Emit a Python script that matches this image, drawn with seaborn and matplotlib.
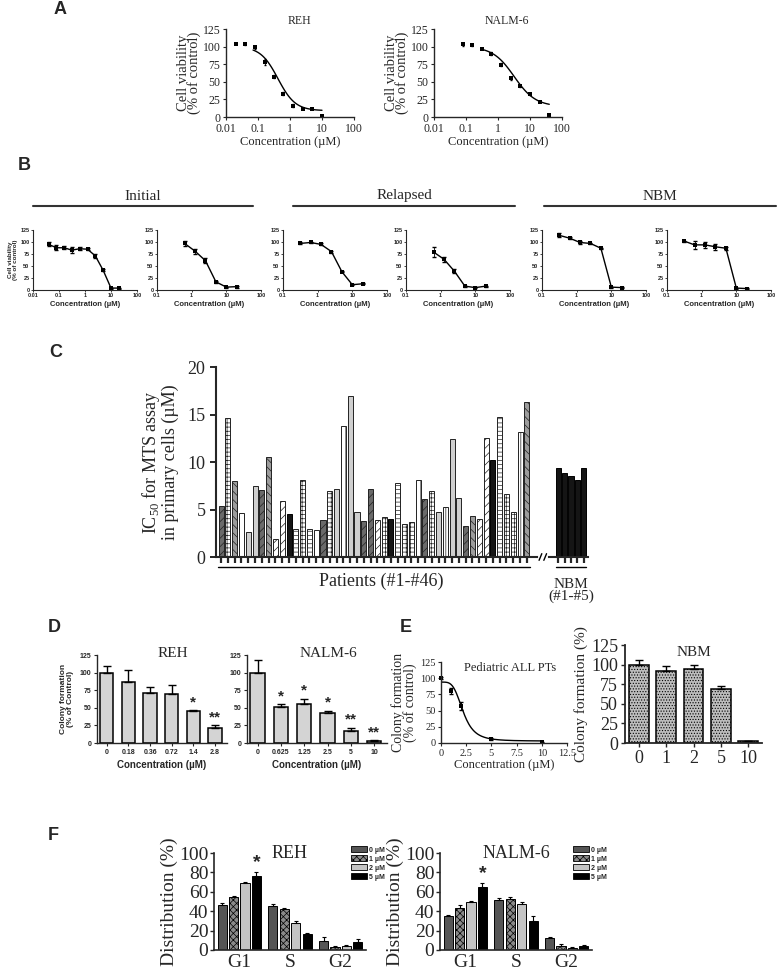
import numpy as np
import pandas as pd
import seaborn as sns
import matplotlib
matplotlib.use("Agg")
import matplotlib.pyplot as plt
from matplotlib.lines import Line2D
from matplotlib.patches import Patch

sns.set_style("ticks")
plt.rcParams['font.family'] = ['Liberation Serif', 'DejaVu Sans']
plt.rcParams['hatch.linewidth'] = 0.5
plt.rcParams['axes.linewidth'] = 1.0
SANS = ['Liberation Sans', 'DejaVu Sans']
SERIF = ['Liberation Serif', 'DejaVu Serif']

# ---------------- data ----------------
# A: MTS viability in cell lines
a_reh_conc = [0.02, 0.04, 0.08, 0.16, 0.31, 0.625, 1.25, 2.5, 5, 10]
a_reh_via = [104, 103, 99, 78, 57, 33, 16, 12, 12, 2]
a_reh_err = [1, 1, 2, 4, 2, 2, 2, 1, 1, 1]
a_reh_fit = (100, 9, 0.42, 1.6)        # top, bottom, IC50, hill
a_nalm_conc = [0.078, 0.156, 0.3125, 0.625, 1.25, 2.5, 5, 10, 20, 40]
a_nalm_via = [103, 102, 97, 90, 74, 55, 44, 32, 22, 3]
a_nalm_err = [2, 1, 1, 2, 2, 2, 1, 1, 1, 1]
a_nalm_fit = (100, 15, 3.2, 1.3)

# B: primary cells
b_init1_conc = [0.04, 0.08, 0.16, 0.31, 0.625, 1.25, 2.5, 5, 10, 20]
b_init1_via = [95, 88, 88, 83, 86, 85, 71, 41, 4, 4]
b_init1_err = [4, 5, 3, 6, 3, 2, 4, 2, 1, 1]
b_init2_conc = [0.625, 1.25, 2.5, 5, 10, 20]
b_init2_via = [97, 81, 61, 17, 6, 7]
b_init2_err = [5, 5, 5, 2, 1, 2]
b_rel1_conc = [0.31, 0.625, 1.25, 2.5, 5, 10, 20]
b_rel1_via = [97, 99, 95, 80, 38, 11, 13]
b_rel1_err = [2, 2, 2, 2, 1, 1, 1]
b_rel2_conc = [0.625, 1.25, 2.5, 5, 10, 20]
b_rel2_via = [79, 64, 39, 8, 5, 8]
b_rel2_err = [10, 5, 4, 1, 1, 1]
b_nbm1_conc = [0.31, 0.625, 1.25, 2.5, 5, 10, 20]
b_nbm1_via = [114, 108, 99, 97, 87, 6, 5]
b_nbm1_err = [4, 2, 4, 1, 1, 1, 1]
b_nbm2_conc = [0.31, 0.625, 1.25, 2.5, 5, 10, 20]
b_nbm2_via = [102, 94, 94, 90, 87, 4, 3]
b_nbm2_err = [1, 8, 7, 6, 3, 1, 1]
b_groups = ['Initial', 'Relapsed', 'NBM']

# C: IC50 of patients and NBM
c_patient_ic50 = [5.4, 14.6, 8.0, 4.6, 2.6, 7.5, 7.1, 10.5, 1.9, 5.9,
                  4.5, 3.0, 8.1, 3.0, 2.8, 3.9, 6.9, 7.2, 13.8, 17.0,
                  4.75, 3.8, 7.2, 3.9, 4.2, 4.05, 7.8, 3.5, 3.7, 8.1,
                  6.1, 7.0, 4.7, 5.3, 12.4, 6.2, 3.3, 4.3, 4.0, 12.5,
                  10.2, 14.7, 6.6, 4.75, 13.2, 16.3]
c_nbm_ic50 = [9.4, 8.8, 8.55, 8.1, 9.4]
c_yticks = [0, 5, 10, 15, 20]

# D: colony formation in cell lines
d_reh_dose = ['0', '0.18', '0.36', '0.72', '1.4', '2.8']
d_reh_col = [100, 87, 71, 69, 46, 21]
d_reh_err = [10, 17, 9, 13, 1, 5]
d_reh_sig = ['', '', '', '', '*', '**']
d_nalm_dose = ['0', '0.625', '1.25', '2.5', '5', '10']
d_nalm_col = [100, 51, 55, 42, 17, 3]
d_nalm_err = [18, 4, 8, 4, 5, 1]
d_nalm_sig = ['', '*', '*', '*', '**', '**']

# E: colony formation in patients and NBM
e_pt_conc = [0, 1, 2, 5, 10]
e_pt_col = [100, 80, 57, 6, 1]
e_pt_err = [2, 5, 6, 2, 1]
e_pt_fit = (94, 3, 2.2, 4.0)
e_nbm_dose = ['0', '1', '2', '5', '10']
e_nbm_col = [100, 92, 94, 69, 2]
e_nbm_err = [6, 6, 5, 4, 1]

# F: cell cycle distribution
f_phase = ['G1', 'S', 'G2']
f_dose = ['0 µM', '1 µM', '2 µM', '5 µM']
f_reh_0 = [46, 45, 9]
f_reh_1 = [55, 42, 3]
f_reh_2 = [69, 28, 4]
f_reh_5 = [76, 16, 8]
f_reh_err = [[2, 2, 4], [1, 1.5, 1], [1, 1.5, 1.5], [4, 2, 3]]
f_nalm_0 = [35, 52, 12]
f_nalm_1 = [43, 53, 4]
f_nalm_2 = [50, 47, 2]
f_nalm_5 = [65, 30, 4]
f_nalm_err = [[1, 1.5, 1], [3, 2, 2], [1, 2, 1], [4, 5, 1]]

# ---------------- figure ----------------
W, H = 778, 973
fig = plt.figure(figsize=(W / 100, H / 100), dpi=100)


def px_axes(left, top, width, height):
    return fig.add_axes([left / W, 1 - (top + height) / H, width / W, height / H])


def fig_text(x, y, s, **kw):
    fig.text(x / W, 1 - y / H, s, **kw)


def four_pl(x, top, bottom, ic50, hill):
    return bottom + (top - bottom) / (1 + (x / ic50) ** hill)


def panel_label(x, y, s):
    fig_text(x, y, s, family=SANS, weight='bold', fontsize=13, ha='left', va='center')


def tick_font(ax, family, size, weight='normal'):
    for t in ax.get_xticklabels() + ax.get_yticklabels():
        t.set_family(family)
        t.set_fontsize(size)
        t.set_weight(weight)


# ---- A ----
panel_label(54, 10, 'A')
for left, title, conc, via, err, fit, rng in [
        (226, 'REH', a_reh_conc, a_reh_via, a_reh_err, a_reh_fit, (0.07, 10)),
        (434, 'NALM-6', a_nalm_conc, a_nalm_via, a_nalm_err, a_nalm_fit, (0.3, 40))]:
    ax = px_axes(left, 29, 128, 88)
    ax.errorbar(conc, via, yerr=err, fmt='none', ecolor='black', elinewidth=0.6, capsize=1)
    sns.scatterplot(x=conc, y=via, marker='s', color='black', s=10, linewidth=0, ax=ax, clip_on=False)
    xs = np.logspace(np.log10(rng[0]), np.log10(rng[1]), 120)
    sns.lineplot(x=xs, y=four_pl(xs, *fit), color='black', lw=1, ax=ax)
    ax.set_xscale('log')
    ax.set_xlim(0.01, 100)
    ax.set_ylim(0, 125)
    ax.set_xticks([0.01, 0.1, 1, 10, 100], ['0.01', '0.1', '1', '10', '100'])
    ax.set_yticks([0, 25, 50, 75, 100, 125])
    ax.minorticks_off()
    ax.tick_params(length=2.5, width=0.8, pad=1.5)
    tick_font(ax, SERIF, 8.5)
    ax.set_ylabel('Cell viability\n(% of control)', family=SERIF, fontsize=10.5, linespacing=0.75,
                  labelpad=1)
    ax.set_xlabel('Concentration (µM)', family=SERIF, fontsize=9, labelpad=1)
    ax.text(0.57, 1.09, title, transform=ax.transAxes, family=SERIF, fontsize=8.5,
            ha='center', va='center')
    sns.despine(ax=ax)

# ---- B ----
panel_label(18, 165, 'B')
for name, (x0, x1) in zip(b_groups, [(33, 253), (293, 515), (544, 776)]):
    fig_text((x0 + x1) / 2, 196, name, family=SERIF, fontsize=11, ha='center', va='center')
    fig.add_artist(Line2D([x0 / W, x1 / W], [1 - 206 / H, 1 - 206 / H], color='#333333', lw=1.5))

b_sets = [(b_init1_conc, b_init1_via, b_init1_err, 0.01),
          (b_init2_conc, b_init2_via, b_init2_err, 0.1),
          (b_rel1_conc, b_rel1_via, b_rel1_err, 0.1),
          (b_rel2_conc, b_rel2_via, b_rel2_err, 0.1),
          (b_nbm1_conc, b_nbm1_via, b_nbm1_err, 0.1),
          (b_nbm2_conc, b_nbm2_via, b_nbm2_err, 0.1)]
for i, (left, (conc, via, err, xmin)) in enumerate(zip([33, 157, 283, 406, 542, 667], b_sets)):
    ax = px_axes(left, 230, 104, 60)
    ax.errorbar(conc, via, yerr=err, fmt='none', ecolor='black', elinewidth=0.6, capsize=1.2)
    sns.lineplot(x=conc, y=via, color='black', lw=1, marker='s', markersize=3,
                 markeredgewidth=0, ax=ax)
    ax.set_xscale('log')
    ax.set_xlim(xmin, 100)
    ax.set_ylim(0, 125)
    ticks = [t for t in [0.01, 0.1, 1, 10, 100] if t >= xmin]
    ax.set_xticks(ticks, [f'{t:g}' for t in ticks])
    ax.set_yticks([0, 25, 50, 75, 100, 125])
    ax.minorticks_off()
    ax.tick_params(length=1.5, width=0.6, pad=1)
    tick_font(ax, SANS, 4, 'bold')
    for s in ax.spines.values():
        s.set_linewidth(0.8)
    ax.set_xlabel('Concentration (µM)', family=SANS, fontsize=5.5, weight='bold', labelpad=2)
    if i == 0:
        ax.set_ylabel('Cell viability\n(% of control)', family=SANS, fontsize=4.5,
                      weight='bold', linespacing=0.9, labelpad=2)
    sns.despine(ax=ax)

# ---- C ----
panel_label(49, 353, 'C')
n_pat = len(c_patient_ic50)
c_pos = list(range(n_pat)) + [n_pat + 3.6 + k * 0.95 for k in range(len(c_nbm_ic50))]
c_df = pd.DataFrame({'pos': c_pos, 'ic50': c_patient_ic50 + c_nbm_ic50})
ax = px_axes(216, 367, 372, 190)
sns.barplot(data=c_df, x='pos', y='ic50', native_scale=True, color='white', width=0.78,
            errorbar=None, edgecolor='#222222', linewidth=0.7, ax=ax)
styles = {
    'd': ('#6a6a6a', '////'), 'g': ('#9c9c9c', '\\\\\\\\'), 'l': ('#cfcfcf', ''),
    'w': ('white', '||'), 'c': ('white', '++++'), 's': ('white', '////'),
    'h': ('white', '----'), 'k': ('#151515', ''),
}
bar_look = list('dcgwlldgsskhchwdclwllddsckhccwdclwlldgsskhccwg') + ['k'] * len(c_nbm_ic50)
for patch, code in zip(ax.patches, bar_look):
    fc, hatch = styles[code]
    patch.set_facecolor(fc)
    patch.set_hatch(hatch)
    if code == 'k':
        patch.set_edgecolor('black')
ax.set_xlim(-0.75, 54)
ax.set_ylim(0, 20)
ax.set_yticks(c_yticks)
ax.set_xticks(c_pos)
ax.set_xticklabels([])
ax.tick_params(axis='x', length=4, width=1.6, direction='out')
ax.tick_params(axis='y', length=4, width=1.4)
tick_font(ax, SERIF, 13)
for s in ax.spines.values():
    s.set_linewidth(1.5)
ax.set_xlabel('')
ax.set_ylabel('IC$_{\\mathregular{50}}$ for MTS assay\nin primary cells (µM)', family=SERIF,
              fontsize=13, linespacing=1.0, labelpad=6)
sns.despine(ax=ax)
brk = n_pat + 1.3
ax.plot([brk - 0.3, brk + 0.5], [0, 0], color='white', lw=3, clip_on=False, zorder=4)
for dx in (-0.3, 0.4):
    ax.plot([brk + dx - 0.2, brk + dx + 0.2], [-0.35, 0.35], color='black', lw=1, clip_on=False, zorder=5)
ax.plot([-0.4, n_pat - 0.6], [-1.05, -1.05], color='black', lw=1, clip_on=False)
ax.plot([c_pos[n_pat] - 0.3, c_pos[-1] + 0.3], [-1.05, -1.05], color='black', lw=1, clip_on=False)
ax.text((n_pat - 1) / 2 + 1, -2.6, 'Patients (#1-#46)', family=SERIF, fontsize=13,
        ha='center', va='center')
ax.text((c_pos[n_pat] + c_pos[-1]) / 2, -3.5, 'NBM\n(#1-#5)', family=SERIF, fontsize=11,
        ha='center', va='center', linespacing=0.9)

# ---- D ----
panel_label(48, 627, 'D')
for left, width, title, dose, col, err, sig, ylab in [
        (97, 130, 'REH', d_reh_dose, d_reh_col, d_reh_err, d_reh_sig, True),
        (247, 140, 'NALM-6', d_nalm_dose, d_nalm_col, d_nalm_err, d_nalm_sig, False)]:
    ax = px_axes(left, 655, width, 88)
    sns.barplot(x=dose, y=col, color='#d4d4d4', edgecolor='black', linewidth=1.1, width=0.62,
                errorbar=None, ax=ax)
    xs = np.arange(len(dose))
    ax.errorbar(xs, col, yerr=[np.zeros(len(err)), err], fmt='none', ecolor='black',
                elinewidth=1, capsize=3, capthick=1)
    for x, v, e, s in zip(xs, col, err, sig):
        if s:
            ax.text(x, v + e + 1, s, ha='center', va='bottom', family=SANS, fontsize=11,
                    weight='bold')
    ax.set_xlim(-0.45, len(dose) - 0.45)
    ax.set_ylim(0, 125)
    ax.set_yticks([0, 25, 50, 75, 100, 125])
    ax.tick_params(length=2, width=0.8, pad=2)
    tick_font(ax, SANS, 5, 'bold')
    ax.set_xlabel('Concentration (µM)', family=SANS, fontsize=7, weight='bold', labelpad=3)
    if ylab:
        ax.set_ylabel('Colony formation\n(% of Control)', family=SANS, fontsize=6, weight='bold',
                      linespacing=1.0, labelpad=4)
    ax.text(0.58, 1.02, title, transform=ax.transAxes, family=SERIF, fontsize=11,
            ha='center', va='center')
    sns.despine(ax=ax)

# ---- E ----
panel_label(400, 627, 'E')
ax = px_axes(441, 662, 126, 81)
ax.errorbar(e_pt_conc, e_pt_col, yerr=e_pt_err, fmt='none', ecolor='black', elinewidth=0.7, capsize=1.5)
sns.scatterplot(x=e_pt_conc, y=e_pt_col, marker='s', color='black', s=9, linewidth=0, ax=ax,
                clip_on=False)
xs = np.linspace(0, 10, 150)
sns.lineplot(x=xs, y=four_pl(xs, *e_pt_fit), color='black', lw=1, ax=ax)
ax.set_xlim(0, 12.5)
ax.set_ylim(0, 125)
ax.set_xticks([0, 2.5, 5, 7.5, 10, 12.5], ['0', '2.5', '5', '7.5', '10', '12.5'])
ax.set_yticks([0, 25, 50, 75, 100, 125])
ax.tick_params(length=2.5, width=0.8, pad=1.5)
tick_font(ax, SERIF, 7.5)
ax.set_xlabel('Concentration (µM)', family=SERIF, fontsize=9, labelpad=1)
ax.set_ylabel('Colony formation\n(% of control)', family=SERIF, fontsize=10, linespacing=0.85,
              labelpad=2)
ax.text(0.55, 0.93, 'Pediatric ALL PTs', transform=ax.transAxes, family=SERIF, fontsize=9,
        ha='center', va='center')
sns.despine(ax=ax)

ax = px_axes(625, 645, 137, 98)
sns.barplot(x=e_nbm_dose, y=e_nbm_col, color='#bdbdbd', edgecolor='black', linewidth=1.1,
            width=0.72, errorbar=None, ax=ax)
for p in ax.patches:
    p.set_hatch('......')
xs = np.arange(len(e_nbm_dose))
ax.errorbar(xs, e_nbm_col, yerr=[np.zeros(len(xs)), e_nbm_err], fmt='none', ecolor='black',
            elinewidth=1, capsize=3, capthick=1)
ax.set_xlim(-0.5, len(xs) - 0.5)
ax.set_ylim(0, 125)
ax.set_yticks([0, 25, 50, 75, 100, 125])
ax.tick_params(length=3, width=1.0, pad=2)
tick_font(ax, SERIF, 13)
ax.set_ylabel('Colony formation (%)', family=SERIF, fontsize=11, labelpad=2)
ax.text(0.5, 0.92, 'NBM', transform=ax.transAxes, family=SERIF, fontsize=11, ha='center',
        va='center')
for s in ax.spines.values():
    s.set_linewidth(1.3)
sns.despine(ax=ax)

# ---- F ----
panel_label(48, 835, 'F')
f_colors = ['#555555', '#8a8a8a', '#c4c4c4', '#000000']
for left, title, vals, errs, leg_x in [
        (214, 'REH', [f_reh_0, f_reh_1, f_reh_2, f_reh_5], f_reh_err, 345),
        (440, 'NALM-6', [f_nalm_0, f_nalm_1, f_nalm_2, f_nalm_5], f_nalm_err, 567)]:
    ax = px_axes(left, 853, 152, 97)
    f_df = pd.DataFrame({'phase': f_phase * 4,
                         'dose': [d for d in f_dose for _ in f_phase],
                         'value': sum(vals, [])})
    sns.barplot(data=f_df, x='phase', y='value', hue='dose', palette=f_colors, edgecolor='black',
                linewidth=0.7, width=0.9, gap=0.2, errorbar=None, legend=False, ax=ax)
    bar_conts = list(ax.containers)
    for k, cont in enumerate(bar_conts):
        for j, bar in enumerate(cont.patches):
            if k == 1:
                bar.set_hatch('xxxxx')
            cx = bar.get_x() + bar.get_width() / 2
            ax.errorbar(cx, vals[k][j], yerr=[[0], [errs[k][j]]], fmt='none', ecolor='black',
                        elinewidth=0.8, capsize=1.5, capthick=0.8)
    g1_top = bar_conts[3].patches[0]
    ax.text(g1_top.get_x() + g1_top.get_width() / 2, vals[3][0] + errs[3][0] + 1, '*',
            ha='center', va='bottom', family=SANS, fontsize=14, weight='bold')
    ax.set_ylim(0, 100)
    ax.set_xlim(-0.5, 2.5)
    ax.set_yticks([0, 20, 40, 60, 80, 100])
    ax.tick_params(axis='y', length=3, width=1.0, pad=1)
    ax.tick_params(axis='x', length=0, pad=3)
    tick_font(ax, SERIF, 14)
    ax.set_xlabel('')
    ax.set_ylabel('Distribution (%)', family=SERIF, fontsize=14, labelpad=1)
    ax.text(0.5, 1.0, title, transform=ax.transAxes, family=SERIF, fontsize=13, ha='center',
            va='center')
    handles = [Patch(facecolor=c, edgecolor='black', linewidth=0.6, hatch=h)
               for c, h in zip(f_colors, ['', 'xxxxx', '', ''])]
    fig.legend(handles, f_dose, loc='upper left', bbox_to_anchor=(leg_x / W, 1 - 840 / H),
               frameon=False, prop={'family': SANS, 'size': 5, 'weight': 'bold'},
               handlelength=2.2, handleheight=0.9, handletextpad=0.3, labelspacing=0.25)
    for s in ax.spines.values():
        s.set_linewidth(1.2)
    sns.despine(ax=ax)

fig.savefig('out.png', dpi=100)
